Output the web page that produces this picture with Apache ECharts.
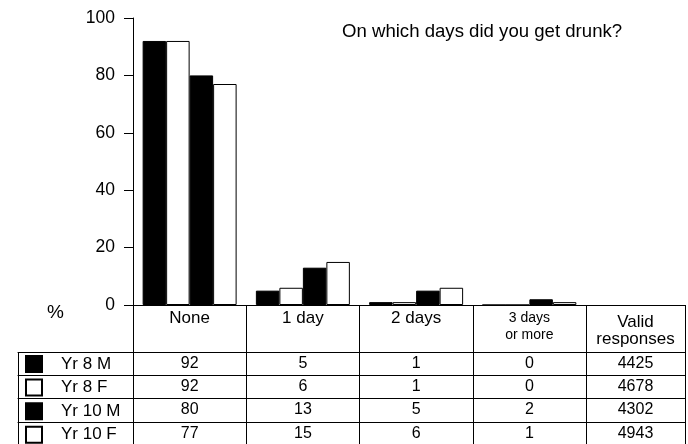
<!DOCTYPE html>
<html>
<head>
<meta charset="utf-8">
<script src="https://cdn.jsdelivr.net/npm/echarts@6/dist/echarts.min.js"></script>
<style>
html,body{margin:0;padding:0;background:#fff;}
#chart{width:688px;height:444px;}
</style>
</head>
<body>
<div id="chart"></div>
<script>
// ---- data ----
const titleText = 'On which days did you get drunk?';
const categories = ['None', '1 day', '2 days', '3 days\nor more'];
const seriesNames = ['Yr 8 M', 'Yr 8 F', 'Yr 10 M', 'Yr 10 F'];
const yr8M = [92, 5, 1, 0];
const yr8F = [92, 6, 1, 0];
const yr10M = [80, 13, 5, 2];
const yr10F = [77, 15, 6, 1];
const validHeader = 'Valid\nresponses';
const validResponses = [4425, 4678, 4302, 4943];
const yTicks = [0, 20, 40, 60, 80, 100];
const yUnit = '%';

// ---- build ----
const FONT = '"Liberation Sans", Arial, sans-serif';
const seriesValues = [yr8M, yr8F, yr10M, yr10F];
const fills = ['#000', '#fff', '#000', '#fff'];
const rowOffsets = [47, 70, 93, 117];      // table row lines below the x axis
const legendRowOffsets = [23, 46, 70];     // same lines, relative to legend column top
const black = '#000';

const xAxes = [];
// main category axis (header row)
xAxes.push({
  type: 'category', gridIndex: 0, data: categories, position: 'bottom',
  axisLine: {show: true, lineStyle: {color: black, width: 1}},
  axisTick: {show: true, length: 140, lineStyle: {color: black, width: 1}},
  axisLabel: {
    color: black, fontFamily: FONT, fontSize: 17, margin: 5, verticalAlign: 'top', interval: 0,
    formatter: v => v.indexOf('\n') >= 0 ? v.split('\n').map(s => '{s|' + s + '}').join('\n') : v,
    rich: {s: {fontSize: 14, lineHeight: 17, fontFamily: FONT, color: black}}
  }
});
// one axis per table row, labels = that series' values
seriesValues.forEach((vals, i) => {
  xAxes.push({
    type: 'category', gridIndex: 0, data: categories, position: 'bottom', offset: rowOffsets[i],
    axisLine: {show: true, lineStyle: {color: black, width: 1}},
    axisTick: {show: false},
    axisLabel: {color: black, fontFamily: FONT, fontSize: 16, margin: 11.5, verticalAlign: 'middle',
      interval: 0, formatter: (v, idx) => String(vals[idx])}
  });
});
// valid responses column
xAxes.push({
  type: 'category', gridIndex: 1, data: [validHeader], position: 'bottom',
  axisLine: {show: true, lineStyle: {color: black, width: 1}},
  axisTick: {show: true, length: 140, lineStyle: {color: black, width: 1}},
  axisLabel: {color: black, fontFamily: FONT, fontSize: 17, lineHeight: 17, margin: 9, verticalAlign: 'top', interval: 0}
});
validResponses.forEach((val, i) => {
  xAxes.push({
    type: 'category', gridIndex: 1, data: [validHeader], position: 'bottom', offset: rowOffsets[i],
    axisLine: {show: true, lineStyle: {color: black, width: 1}},
    axisTick: {show: false},
    axisLabel: {color: black, fontFamily: FONT, fontSize: 16, margin: 11.5, verticalAlign: 'middle',
      interval: 0, formatter: () => String(val)}
  });
});
// legend column lines
xAxes.push({
  type: 'category', gridIndex: 2, data: [''], position: 'bottom',
  axisLine: {show: true, lineStyle: {color: black, width: 1}},
  axisTick: {show: true, length: 93, lineStyle: {color: black, width: 1}},
  axisLabel: {show: false}
});
legendRowOffsets.forEach(off => {
  xAxes.push({
    type: 'category', gridIndex: 2, data: [''], position: 'bottom', offset: off,
    axisLine: {show: true, lineStyle: {color: black, width: 1}},
    axisTick: {show: false}, axisLabel: {show: false}
  });
});

const option = {
  animation: false,
  backgroundColor: '#fff',
  title: {
    text: titleText, left: 342, top: 22, padding: 0,
    textStyle: {fontFamily: FONT, fontSize: 18.6, fontWeight: 'normal', color: black}
  },
  legend: {
    orient: 'vertical', left: 25, top: 355, height: 120, padding: 0,
    itemWidth: 16, itemHeight: 16, itemGap: 5.6, icon: 'rect',
    data: seriesNames,
    textStyle: {fontFamily: FONT, fontSize: 17, lineHeight: 16, color: black, padding: [0, 0, 0, 14]},
    selectedMode: false
  },
  grid: [
    {left: 133, right: 102, top: 18, bottom: 139, outerBoundsMode: 'none', containLabel: false},
    {left: 586, right: 3, top: 18, bottom: 139, outerBoundsMode: 'none', containLabel: false},
    {left: 18, width: 115, top: 18, bottom: 92, outerBoundsMode: 'none', containLabel: false}
  ],
  xAxis: xAxes,
  yAxis: [
    {
      type: 'value', gridIndex: 0, min: yTicks[0], max: yTicks[yTicks.length - 1],
      interval: yTicks[1] - yTicks[0],
      name: yUnit, nameLocation: 'start', nameGap: 8,
      nameTextStyle: {fontFamily: FONT, fontSize: 19, color: black, align: 'right', verticalAlign: 'middle', padding: [0, 69, 0, 0]},
      axisLine: {show: true, lineStyle: {color: black, width: 1}},
      axisTick: {show: true, length: 9, lineStyle: {color: black, width: 1}},
      axisLabel: {color: black, fontFamily: FONT, fontSize: 17.5, margin: 18},
      splitLine: {show: false}
    },
    {type: 'value', gridIndex: 1, show: false, min: 0, max: 100},
    {type: 'value', gridIndex: 2, show: false, min: 0, max: 100}
  ],
  series: seriesNames.map((name, i) => ({
    name: name, type: 'bar', xAxisIndex: 0, yAxisIndex: 0,
    data: seriesValues[i],
    barGap: 0, barCategoryGap: '17%',
    itemStyle: {color: fills[i], borderColor: black, borderWidth: 1},
    emphasis: {disabled: true}
  }))
};

const chart = echarts.init(document.getElementById('chart'), null, {renderer: 'canvas'});
chart.setOption(option);
</script>
</body>
</html>
